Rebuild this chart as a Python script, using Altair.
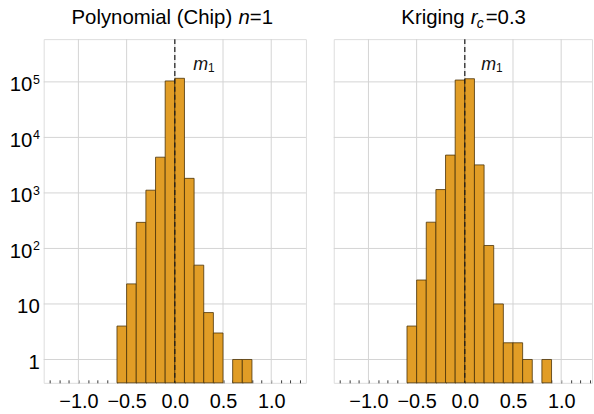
import altair as alt
import pandas as pd

# ---------------- data ----------------
bin_starts = [-0.6, -0.5, -0.4, -0.3, -0.2, -0.1, 0.0, 0.1, 0.2, 0.3, 0.4, 0.5, 0.6, 0.7, 0.8]
bin_width = 0.1
poly_counts = [4, 23, 295, 1120, 4400, 104000, 116000, 1830, 50, 7, 3, 0, 1, 1, 0]
krig_counts = [4, 27, 297, 1150, 4800, 108000, 114000, 3200, 113, 10, 2, 2, 1, 0, 1]
m1_values = [0.0, 0.0]

y_ticks = [1, 10, 100, 1000, 10000, 100000]
y_tick_base = ["1", "10", "10", "10", "10", "10"]
y_tick_exp = ["", "", "2", "3", "4", "5"]
x_grid = [-1.0, -0.5, 0.0, 0.5, 1.0]
x_minor = [-1.3, -1.2, -1.1, -1.0, -0.9, -0.8, -0.7, -0.6, -0.5, -0.4, -0.3, -0.2, -0.1,
           0.0, 0.1, 0.2, 0.3, 0.4, 0.5, 0.6, 0.7, 0.8, 0.9, 1.0, 1.1, 1.2, 1.3]

title_left = ["Polynomial (Chip)", "n", "=1"]
title_right = ["Kriging", "r", "c", "=0.3"]
m_label = ["m", "1"]

# ---------------- style ----------------
FONT = "Liberation Sans"
FILL = "#E19D26"
EDGE = "#4a3208"
GRID = "#d4d4d4"
FRAME = "#3a3a3a"
H = 346
YDOM = [0.38, 589000]

xlab_expr = ("abs(datum.value * 2 - round(datum.value * 2)) < 0.001 ? "
             "format(datum.value, '.1f') : ''")


def panel(counts, width, xdom, show_y, title_pieces, m_x):
    df = pd.DataFrame({"start": bin_starts, "count": counts})
    df = df[df["count"] > 0].copy()
    df["end"] = df["start"] + bin_width

    xs = alt.Scale(domain=xdom, nice=False, zero=False)
    ys = alt.Scale(type="log", domain=YDOM, nice=False)
    xaxis = alt.Axis(values=x_minor, labelExpr=xlab_expr, grid=False, domain=False,
                     ticks=True, tickSize=3, tickColor=FRAME, offset=-3,
                     labelPadding=9, labelFontSize=20, labelFont=FONT,
                     labelColor="black", title=None, labelOverlap=False,
                     labelFlush=False, minExtent=0)

    vgrid = alt.Chart(pd.DataFrame({"g": x_grid})).mark_rule(
        color=GRID, strokeWidth=1).encode(x=alt.X("g:Q", scale=xs, axis=xaxis))
    hgrid = alt.Chart(pd.DataFrame({"g": y_ticks})).mark_rule(
        color=GRID, strokeWidth=1).encode(y=alt.Y("g:Q", scale=ys, axis=None))

    bars = alt.Chart(df).mark_rect(
        fill=FILL, stroke=EDGE, strokeWidth=1, strokeOpacity=0.8).encode(
        x=alt.X("start:Q", scale=xs, axis=xaxis),
        x2="end:Q",
        y=alt.Y("count:Q", scale=ys, axis=None),
        y2=alt.datum(YDOM[0]),
    )

    mdf = pd.DataFrame({"m": [m1_values[0]]})
    dash = alt.Chart(mdf).mark_rule(
        color="#1a1a1a", strokeWidth=1.2, strokeDash=[5, 3]).encode(
        x=alt.X("m:Q", scale=xs, axis=xaxis))

    ldf = pd.DataFrame({"x": [m_x], "y": [162000], "a": [m_label[0]], "b": [m_label[1]]})
    mtxt = alt.Chart(ldf).mark_text(
        font=FONT, fontSize=18, fontStyle="italic", align="left",
        baseline="alphabetic", color="#111").encode(
        x=alt.X("x:Q", scale=xs, axis=xaxis), y=alt.Y("y:Q", scale=ys, axis=None),
        text="a:N")
    msub = alt.Chart(ldf).mark_text(
        font=FONT, fontSize=12, align="left", baseline="alphabetic",
        dx=15, dy=2, color="#111").encode(
        x=alt.X("x:Q", scale=xs, axis=xaxis), y=alt.Y("y:Q", scale=ys, axis=None),
        text="b:N")

    layers = [vgrid, hgrid, bars, dash, mtxt, msub]

    if show_y:
        ydf = pd.DataFrame({"v": y_ticks, "base": y_tick_base, "exp": y_tick_exp})
        ybase = alt.Chart(ydf)
        plain = ybase.transform_filter("datum.exp == ''").mark_text(
            font=FONT, fontSize=20.5, align="right", baseline="alphabetic",
            dy=9.5, color="black").encode(
            x=alt.value(-4), y=alt.Y("v:Q", scale=ys, axis=None), text="base:N")
        powb = ybase.transform_filter("datum.exp != ''").mark_text(
            font=FONT, fontSize=20.5, align="right", baseline="alphabetic",
            dy=9.5, color="black").encode(
            x=alt.value(-11.5), y=alt.Y("v:Q", scale=ys, axis=None), text="base:N")
        powe = ybase.transform_filter("datum.exp != ''").mark_text(
            font=FONT, fontSize=12.5, align="left", baseline="alphabetic",
            dy=1.8, color="black").encode(
            x=alt.value(-10.8), y=alt.Y("v:Q", scale=ys, axis=None), text="exp:N")
        layers += [plain, powb, powe]

    for text, px, dy, size, style in title_pieces:
        t = alt.Chart(pd.DataFrame({"t": [text]})).mark_text(
            font=FONT, fontSize=size, fontStyle=style, align="left",
            baseline="alphabetic", color="black").encode(
            x=alt.value(px), y=alt.value(-15 + dy), text="t:N")
        layers.append(t)

    return alt.layer(*layers).properties(width=width, height=H)


left = panel(poly_counts, 264, [-1.36, 1.36], True,
             [(title_left[0], 28.0, 0, 20.5, "normal"),
              (title_left[1], 196.0, 0, 20.5, "italic"),
              (title_left[2], 207.5, 0, 20.5, "normal")],
             0.19)
right = panel(krig_counts, 260, [-1.36, 1.32], False,
              [(title_right[0], 68.0, 0, 20.5, "normal"),
               (title_right[1], 138.0, 0, 20.5, "italic"),
               (title_right[2], 144.0, 4, 14, "italic"),
               (title_right[3], 153.0, 0, 20.5, "normal")],
              0.17)

chart = alt.hconcat(left, right, spacing=26).properties(
    padding={"left": 9, "top": 6, "right": 1, "bottom": 0}
).configure_view(stroke=FRAME, strokeWidth=1).configure(background="white")

chart.save("out.html", embed_options={"renderer": "svg", "actions": False})
